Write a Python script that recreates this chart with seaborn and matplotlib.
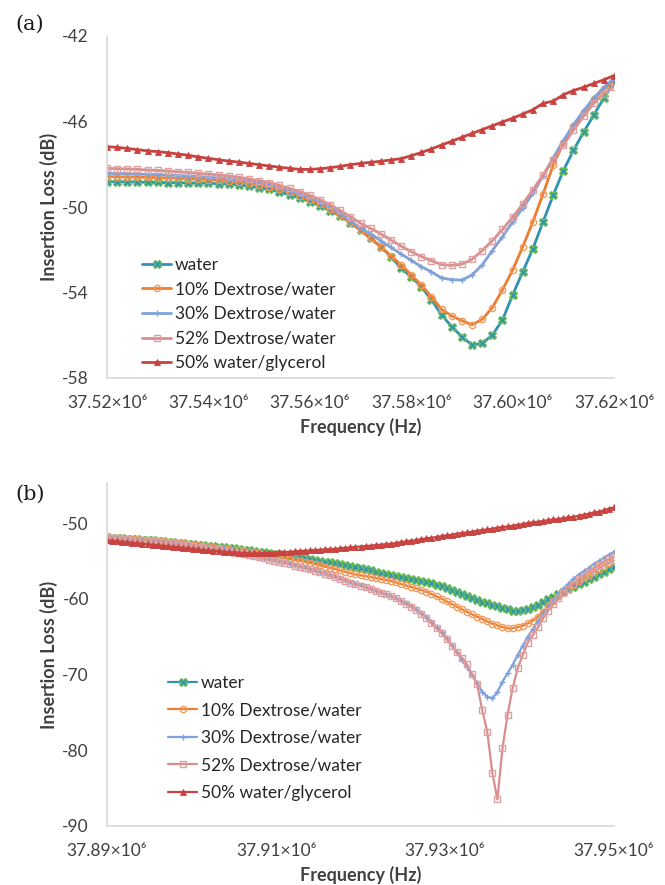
import matplotlib
matplotlib.use("Agg")
import numpy as np
import pandas as pd
import matplotlib.pyplot as plt
from matplotlib.ticker import FuncFormatter, FixedLocator
import seaborn as sns

# ---------------- data ----------------
series_names = ["water", "10% Dextrose/water", "30% Dextrose/water",
                "52% Dextrose/water", "50% water/glycerol"]

# panel (a): frequency in units of 10^6 Hz
freq_a = [37.520, 37.522, 37.524, 37.526, 37.528, 37.530, 37.532, 37.534, 37.536, 37.538,
          37.540, 37.542, 37.544, 37.546, 37.548, 37.550, 37.552, 37.554, 37.556, 37.558,
          37.560, 37.562, 37.564, 37.566, 37.568, 37.570, 37.572, 37.574, 37.576, 37.578,
          37.580, 37.582, 37.584, 37.586, 37.588, 37.590, 37.592, 37.594, 37.596, 37.598,
          37.600, 37.602, 37.604, 37.606, 37.608, 37.610, 37.612, 37.614, 37.616, 37.618,
          37.620]
water_a = [-48.82, -48.82, -48.83, -48.83, -48.85, -48.85, -48.86, -48.86, -48.88, -48.89,
           -48.89, -48.91, -48.92, -48.96, -49.02, -49.10, -49.17, -49.30, -49.42, -49.58,
           -49.75, -49.95, -50.17, -50.42, -50.73, -51.08, -51.47, -51.86, -52.32, -52.87,
           -53.26, -53.73, -54.35, -55.05, -55.60, -56.07, -56.46, -56.38, -55.99, -55.29,
           -54.12, -53.03, -51.95, -50.70, -49.45, -48.30, -47.35, -46.50, -45.70, -44.90,
           -44.15]
dex10_a = [-48.58, -48.58, -48.60, -48.60, -48.61, -48.63, -48.64, -48.66, -48.67, -48.69,
           -48.72, -48.74, -48.77, -48.82, -48.88, -48.96, -49.05, -49.17, -49.31, -49.47,
           -49.66, -49.86, -50.11, -50.39, -50.72, -51.08, -51.47, -51.86, -52.28, -52.71,
           -53.18, -53.65, -54.20, -54.79, -55.10, -55.32, -55.51, -55.26, -54.71, -53.88,
           -52.95, -51.86, -50.69, -49.39, -48.05, -47.00, -46.20, -45.55, -44.95, -44.50,
           -44.10]
dex30_a = [-48.43, -48.43, -48.44, -48.46, -48.47, -48.49, -48.50, -48.53, -48.55, -48.58,
           -48.61, -48.64, -48.69, -48.74, -48.80, -48.88, -48.97, -49.10, -49.24, -49.39,
           -49.56, -49.77, -50.00, -50.30, -50.64, -51.00, -51.26, -51.58, -51.89, -52.20,
           -52.50, -52.79, -53.04, -53.32, -53.40, -53.42, -53.18, -52.71, -52.04, -51.39,
           -50.70, -50.05, -49.36, -48.55, -47.70, -46.90, -46.15, -45.50, -44.90, -44.40,
           -43.98]
dex52_a = [-48.19, -48.21, -48.22, -48.24, -48.27, -48.29, -48.32, -48.35, -48.38, -48.43,
           -48.46, -48.50, -48.55, -48.61, -48.69, -48.77, -48.86, -48.99, -49.13, -49.28,
           -49.45, -49.66, -49.89, -50.16, -50.45, -50.76, -51.00, -51.26, -51.54, -51.83,
           -52.09, -52.32, -52.51, -52.70, -52.73, -52.67, -52.45, -52.04, -51.58, -51.05,
           -50.48, -49.86, -49.20, -48.50, -47.80, -47.10, -46.40, -45.75, -45.15, -44.70,
           -44.37]
glyc_a = [-47.18, -47.21, -47.26, -47.32, -47.37, -47.41, -47.46, -47.52, -47.58, -47.66,
          -47.72, -47.79, -47.85, -47.90, -47.96, -48.02, -48.08, -48.14, -48.19, -48.24,
          -48.24, -48.21, -48.16, -48.10, -48.02, -47.96, -47.91, -47.86, -47.80, -47.74,
          -47.60, -47.45, -47.28, -47.10, -46.92, -46.74, -46.56, -46.38, -46.20, -46.02,
          -45.85, -45.65, -45.45, -45.15, -45.05, -44.75, -44.55, -44.40, -44.22, -44.05,
          -43.85]

# panel (b): frequency in units of 10^6 Hz
freq_b = [37.8900, 37.8906, 37.8912, 37.8918, 37.8924, 37.8930, 37.8936, 37.8942, 37.8948, 37.8954,
          37.8960, 37.8966, 37.8972, 37.8978, 37.8984, 37.8990, 37.8996, 37.9002, 37.9008, 37.9014,
          37.9020, 37.9026, 37.9032, 37.9038, 37.9044, 37.9050, 37.9056, 37.9062, 37.9068, 37.9074,
          37.9080, 37.9086, 37.9092, 37.9098, 37.9104, 37.9110, 37.9116, 37.9122, 37.9128, 37.9134,
          37.9140, 37.9146, 37.9152, 37.9158, 37.9164, 37.9170, 37.9176, 37.9182, 37.9188, 37.9194,
          37.9200, 37.9206, 37.9212, 37.9218, 37.9224, 37.9230, 37.9236, 37.9242, 37.9248, 37.9254,
          37.9260, 37.9266, 37.9272, 37.9278, 37.9284, 37.9290, 37.9296, 37.9302, 37.9308, 37.9314,
          37.9320, 37.9326, 37.9332, 37.9338, 37.9344, 37.9350, 37.9356, 37.9362, 37.9368, 37.9374,
          37.9380, 37.9386, 37.9392, 37.9398, 37.9404, 37.9410, 37.9416, 37.9422, 37.9428, 37.9434,
          37.9440, 37.9446, 37.9452, 37.9458, 37.9464, 37.9470, 37.9476, 37.9482, 37.9488, 37.9494,
          37.9500]
water_b = [-51.89, -51.93, -51.98, -52.02, -52.07, -52.11, -52.15, -52.20, -52.24, -52.28,
           -52.37, -52.42, -52.46, -52.50, -52.59, -52.64, -52.72, -52.77, -52.86, -52.90,
           -52.99, -53.08, -53.12, -53.21, -53.30, -53.34, -53.43, -53.52, -53.60, -53.69,
           -53.78, -53.87, -53.96, -54.05, -54.13, -54.27, -54.35, -54.44, -54.53, -54.66,
           -54.75, -54.88, -54.97, -55.10, -55.19, -55.32, -55.45, -55.59, -55.67, -55.81,
           -55.96, -56.11, -56.25, -56.42, -56.55, -56.69, -56.82, -56.95, -57.08, -57.21,
           -57.35, -57.48, -57.61, -57.74, -57.96, -58.14, -58.36, -58.58, -58.84, -59.11,
           -59.37, -59.63, -59.90, -60.16, -60.38, -60.56, -60.78, -61.00, -61.22, -61.39,
           -61.57, -61.61, -61.48, -61.35, -61.09, -60.78, -60.43, -60.07, -59.72, -59.41,
           -59.06, -58.75, -58.40, -58.05, -57.74, -57.39, -57.08, -56.77, -56.47, -56.11,
           -55.76]
dex10_b = [-51.89, -51.93, -51.98, -52.02, -52.07, -52.11, -52.15, -52.20, -52.24, -52.28,
           -52.37, -52.42, -52.50, -52.55, -52.64, -52.68, -52.77, -52.86, -52.95, -52.99,
           -53.08, -53.17, -53.25, -53.34, -53.43, -53.52, -53.56, -53.69, -53.78, -53.87,
           -53.96, -54.09, -54.18, -54.31, -54.44, -54.57, -54.71, -54.84, -54.97, -55.10,
           -55.23, -55.41, -55.59, -55.76, -55.89, -56.07, -56.25, -56.42, -56.60, -56.77,
           -56.90, -56.99, -57.13, -57.26, -57.39, -57.52, -57.65, -57.83, -58.05, -58.23,
           -58.45, -58.62, -58.84, -59.06, -59.37, -59.68, -59.99, -60.34, -60.69, -61.04,
           -61.39, -61.70, -62.05, -62.36, -62.67, -62.98, -63.29, -63.51, -63.73, -63.90,
           -63.86, -63.73, -63.55, -63.24, -62.89, -62.35, -61.70, -60.95, -60.25, -59.65,
           -59.10, -58.67, -58.14, -57.65, -57.26, -56.91, -56.42, -56.03, -55.63, -55.28,
           -54.88]
dex30_b = [-51.89, -51.93, -52.02, -52.07, -52.11, -52.20, -52.24, -52.28, -52.37, -52.42,
           -52.50, -52.55, -52.64, -52.68, -52.77, -52.86, -52.95, -53.03, -53.12, -53.17,
           -53.25, -53.39, -53.47, -53.60, -53.69, -53.83, -53.91, -54.05, -54.18, -54.31,
           -54.44, -54.57, -54.75, -54.88, -55.06, -55.19, -55.37, -55.54, -55.72, -55.85,
           -56.03, -56.25, -56.42, -56.64, -56.82, -57.04, -57.30, -57.52, -57.79, -58.01,
           -58.23, -58.40, -58.67, -58.93, -59.15, -59.37, -59.63, -59.90, -60.25, -60.56,
           -60.91, -61.39, -61.88, -62.36, -63.02, -63.68, -64.34, -65.18, -66.15, -67.07,
           -68.04, -69.05, -70.02, -71.16, -72.26, -72.92, -73.14, -72.35, -70.94, -69.84,
           -68.74, -67.42, -66.19, -65.00, -63.99, -62.93, -61.97, -61.13, -60.25, -59.46,
           -58.67, -58.01, -57.35, -56.82, -56.38, -55.94, -55.41, -55.01, -54.57, -54.18,
           -53.78]
dex52_b = [-51.89, -51.93, -52.02, -52.07, -52.11, -52.20, -52.24, -52.28, -52.37, -52.42,
           -52.50, -52.55, -52.64, -52.68, -52.77, -52.86, -52.95, -53.03, -53.12, -53.17,
           -53.25, -53.39, -53.47, -53.60, -53.72, -53.90, -54.00, -54.14, -54.27, -54.40,
           -54.53, -54.66, -54.84, -54.97, -55.15, -55.28, -55.46, -55.63, -55.81, -55.94,
           -56.12, -56.34, -56.51, -56.73, -56.91, -57.13, -57.39, -57.61, -57.88, -58.10,
           -58.26, -58.45, -58.71, -58.97, -59.19, -59.41, -59.68, -59.94, -60.34, -60.69,
           -61.04, -61.53, -62.01, -62.58, -63.24, -63.90, -64.56, -65.35, -66.19, -66.98,
           -67.77, -68.65, -69.97, -71.29, -74.68, -77.54, -82.96, -86.50, -79.74, -75.34,
           -71.82, -69.18, -67.42, -65.79, -64.78, -63.77, -62.58, -61.57, -60.69, -59.94,
           -59.28, -58.67, -58.05, -57.43, -56.95, -56.42, -55.94, -55.54, -55.10, -54.79,
           -54.44]
glyc_b = [-52.28, -52.33, -52.42, -52.46, -52.55, -52.59, -52.68, -52.72, -52.81, -52.86,
          -52.94, -52.99, -53.08, -53.12, -53.21, -53.25, -53.34, -53.39, -53.47, -53.56,
          -53.60, -53.65, -53.69, -53.78, -53.83, -53.87, -53.91, -53.96, -54.00, -54.00,
          -54.00, -53.96, -53.91, -53.91, -53.87, -53.83, -53.78, -53.74, -53.69, -53.65,
          -53.60, -53.56, -53.52, -53.47, -53.43, -53.39, -53.34, -53.25, -53.21, -53.12,
          -53.10, -53.03, -52.99, -52.90, -52.86, -52.77, -52.72, -52.64, -52.50, -52.42,
          -52.33, -52.24, -52.11, -52.02, -51.93, -51.84, -51.71, -51.62, -51.54, -51.40,
          -51.32, -51.23, -51.14, -51.01, -50.92, -50.83, -50.74, -50.61, -50.52, -50.44,
          -50.35, -50.22, -50.13, -50.00, -49.91, -49.82, -49.73, -49.60, -49.51, -49.47,
          -49.34, -49.25, -49.16, -49.03, -48.90, -48.76, -48.59, -48.50, -48.28, -48.10,
          -47.93]

xticks_a = [37.52, 37.54, 37.56, 37.58, 37.60, 37.62]
yticks_a = [-42, -46, -50, -54, -58]
xticks_b = [37.89, 37.91, 37.93, 37.95]
yticks_b = [-50, -60, -70, -80, -90]

# ---------------- styling ----------------
styles = {
    "water": dict(color="#2F93B3", marker="X", markersize=5.5, markerfacecolor="#2F93B3",
                  markeredgecolor="#6DBE5A", markeredgewidth=0.9),
    "10% Dextrose/water": dict(color="#ED7D31", marker="o", markersize=4.5,
                               markerfacecolor="none", markeredgecolor="#F19A5C",
                               markeredgewidth=1.0),
    "30% Dextrose/water": dict(color="#7FA2D9", marker="+", markersize=4.5,
                               markeredgecolor="#7FA2D9", markeredgewidth=1.0),
    "52% Dextrose/water": dict(color="#D98E8D", marker="s", markersize=4.5,
                               markerfacecolor="none", markeredgecolor="#DDA0A0",
                               markeredgewidth=1.0),
    "50% water/glycerol": dict(color="#C8423F", marker="^", markersize=4.5,
                               markerfacecolor="#C8423F", markeredgecolor="#C8423F",
                               markeredgewidth=0.6),
}

sns.set_theme(style="white")
plt.rcParams["font.family"] = ["Lato", "DejaVu Sans"]


def long_frame(freq, series):
    rows = []
    for name, vals in zip(series_names, series):
        rows.append(pd.DataFrame({"freq": np.asarray(freq) * 1e6,
                                  "loss": vals, "series": name}))
    return pd.concat(rows, ignore_index=True)


df_a = long_frame(freq_a, [water_a, dex10_a, dex30_a, dex52_a, glyc_a])
df_b = long_frame(freq_b, [water_b, dex10_b, dex30_b, dex52_b, glyc_b])

fig = plt.figure(figsize=(6.65, 8.85), dpi=100)
ax_a = fig.add_axes([107 / 665, 1 - 378 / 885, 507 / 665, 342 / 885])
ax_b = fig.add_axes([107 / 665, 1 - 826 / 885, 507 / 665, 343 / 885])


def draw(ax, df, xticks, yticks, ylim, xlim, leg_anchor, leg_spacing, panel_label, label_y,
         lw):
    for name in series_names:
        sub = df[df["series"] == name]
        sns.lineplot(data=sub, x="freq", y="loss", ax=ax, estimator=None, sort=False,
                     linewidth=lw, label=name, **styles[name])
    ax.set_xlim(*xlim)
    ax.set_ylim(*ylim)
    ax.xaxis.set_major_locator(FixedLocator([t * 1e6 for t in xticks]))
    ax.xaxis.set_major_formatter(FuncFormatter(lambda v, p: f"{v / 1e6:.2f}\u00d710\u2076"))
    ax.yaxis.set_major_locator(FixedLocator(yticks))
    ax.yaxis.set_major_formatter(FuncFormatter(lambda v, p: f"{v:.0f}"))
    ax.tick_params(axis="both", length=0, labelsize=12.5, colors="#404040")
    ax.tick_params(axis="y", pad=13)
    ax.tick_params(axis="x", pad=12)
    for s in ["top", "right"]:
        ax.spines[s].set_visible(False)
    for s in ["left", "bottom"]:
        ax.spines[s].set_color("#D9D9D9")
        ax.spines[s].set_linewidth(1.2)
    ax.grid(False)
    ax.set_xlabel("Frequency (Hz)", fontsize=13, fontweight="bold", color="#404040",
                  labelpad=5)
    ax.set_ylabel("Insertion Loss (dB)", fontsize=13, fontweight="bold", color="#404040",
                  labelpad=3)
    ax.legend(loc="upper left", bbox_to_anchor=leg_anchor, frameon=False, fontsize=12.5,
              handlelength=1.7, handletextpad=0.2, labelspacing=leg_spacing, borderpad=0,
              borderaxespad=0, numpoints=1)
    for t in ax.get_legend().get_texts():
        t.set_color("#262626")
    fig.text(15 / 665, label_y, panel_label, fontsize=15, family="DejaVu Serif",
             va="top", ha="left", color="#1a1a1a")


draw(ax_a, df_a, xticks_a, yticks_a, (-58, -42), (37.52e6, 37.62e6),
     (0.069, 0.355), 0.5, "(a)", 1 - 15 / 885, 2.0)
draw(ax_b, df_b, xticks_b, yticks_b, (-90, -44.7), (37.89e6, 37.95e6),
     (0.12, 0.44), 0.66, "(b)", 1 - 485 / 885, 1.6)

fig.savefig("out.png", dpi=100, facecolor="white")
